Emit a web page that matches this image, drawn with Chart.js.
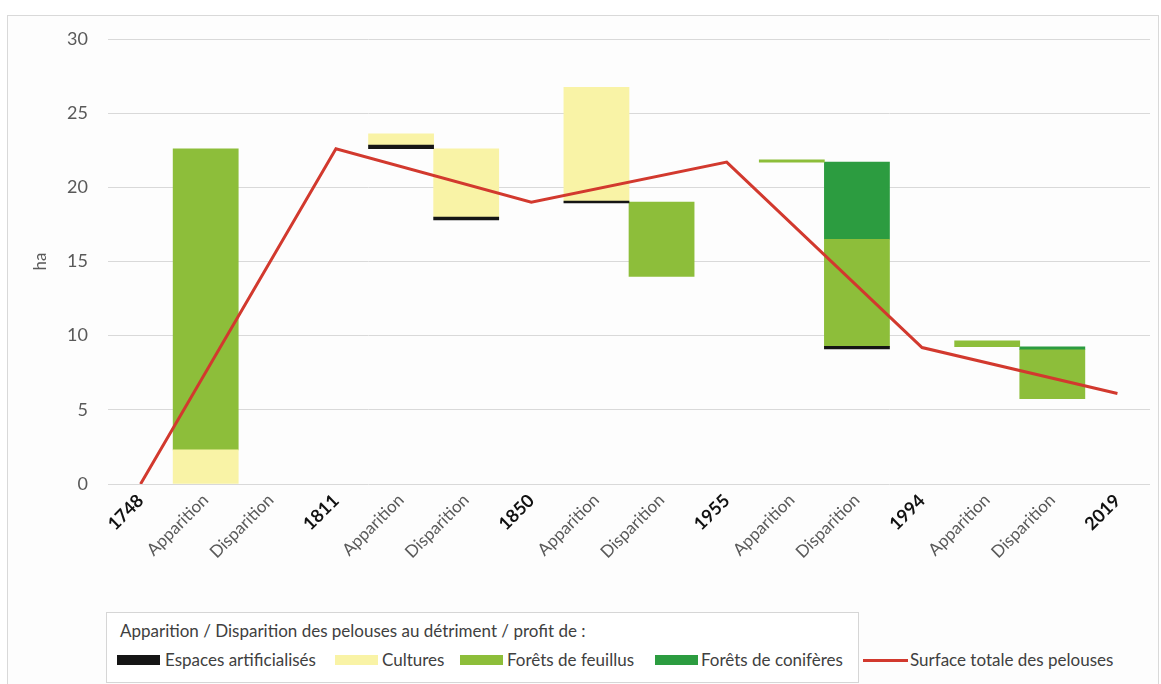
<!DOCTYPE html>
<html>
<head>
<meta charset="utf-8">
<script src="https://cdn.jsdelivr.net/npm/chart.js@4.4.0/dist/chart.umd.min.js"></script>
<style>
  body { margin: 0; background: #fff; font-family: Lato, "Open Sans", sans-serif; }
  #frame { position: absolute; left: 7px; top: 15px; width: 1150px; height: 700px; border: 1px solid #d9d9d9; background: #fdfdfd; }
  #wrap { position: absolute; left: 0; top: 0; width: 1161px; height: 600px; }
  #legendBox { position: absolute; left: 106px; top: 612px; width: 751px; height: 69px; border: 1px solid #d6d6d6; background: #fff; }
  .lg { position: absolute; font-size: 17px; color: #404040; white-space: nowrap; line-height: 20px; }
  .sw { position: absolute; height: 10px; }
</style>
</head>
<body>
<div id="frame"></div>
<div id="wrap"><canvas id="chart"></canvas></div>
<div id="legendBox"></div>
<div id="legend"></div>

<script>
// categories on the x axis
const categories = ['1748', 'Apparition', 'Disparition', '1811', 'Apparition', 'Disparition', '1850',
  'Apparition', 'Disparition', '1955', 'Apparition', 'Disparition', '1994', 'Apparition', 'Disparition', '2019'];

// total lawn area (ha) at each year, null between years
const surfaceTotale = [0, null, null, 22.6, null, null, 19.0, null, null, 21.7, null, null, 9.2, null, null, 6.1];

// floating segments [bottom, top] in ha
const espacesArtificialises = [null, null, null, null, [22.6, 22.85], [17.8, 18.0], null, [18.95, 19.08], null,
  null, null, [9.1, 9.28], null, null, null, null];
const cultures = [null, [0, 2.3], null, null, [22.85, 23.6], [18.0, 22.6], null, [19.08, 26.75], null,
  null, null, null, null, null, null, null];
const foretsFeuillus = [null, [2.3, 22.6], null, null, null, null, null, null, [14.0, 19.0],
  null, [21.7, 21.85], [9.28, 16.5], null, [9.25, 9.65], [5.75, 9.05], null];
const foretsConiferes = [null, null, null, null, null, null, null, null, null,
  null, null, [16.5, 21.7], null, null, [9.05, 9.25], null];

const yTicks = [0, 5, 10, 15, 20, 25, 30];

const colors = {
  espaces: '#151515',
  cultures: '#f9f3a6',
  feuillus: '#8dbe3a',
  coniferes: '#2c9c40',
  surface: '#d2392e'
};

const isYear = (label) => /^\d{4}$/.test(label);

const ctx = document.getElementById('chart').getContext('2d');
const chart = new Chart(ctx, {
  type: 'bar',
  data: {
    labels: categories,
    datasets: [
      {
        type: 'line',
        label: 'Surface totale des pelouses',
        data: surfaceTotale,
        borderColor: colors.surface,
        borderWidth: 3,
        pointRadius: 0,
        spanGaps: true,
        tension: 0,
        order: 0
      },
      { label: 'Espaces artificialisés', data: espacesArtificialises, backgroundColor: colors.espaces, order: 1 },
      { label: 'Cultures', data: cultures, backgroundColor: colors.cultures, order: 2 },
      { label: 'Forêts de feuillus', data: foretsFeuillus, backgroundColor: colors.feuillus, order: 3 },
      { label: 'Forêts de conifères', data: foretsConiferes, backgroundColor: colors.coniferes, order: 4 }
    ]
  },
  options: {
    responsive: true,
    maintainAspectRatio: false,
    animation: false,
    datasets: {
      bar: { barPercentage: 1, categoryPercentage: 1, borderWidth: 0 }
    },
    layout: { padding: { top: 39, right: 11, left: 0, bottom: 0 } },
    plugins: {
      legend: { display: false },
      tooltip: { enabled: false }
    },
    scales: {
      x: {
        stacked: true,
        grid: { display: false },
        border: { display: false },
        afterFit: (scale) => { scale.height = 116; },
        ticks: {
          autoSkip: false,
          maxRotation: 45,
          minRotation: 45,
          padding: -2,
          color: (c) => isYear(categories[c.index]) ? '#111' : '#595959',
          font: (c) => isYear(categories[c.index])
            ? { family: 'Lato', size: 18, weight: 'bold' }
            : { family: 'Lato', size: 17 }
        }
      },
      y: {
        stacked: false,
        min: 0,
        max: 30,
        afterFit: (scale) => { scale.width = 108; },
        afterBuildTicks: (scale) => { scale.ticks = yTicks.map(v => ({ value: v })); },
        grid: { color: '#d9d9d9', lineWidth: 1, drawTicks: false },
        border: { display: false },
        ticks: {
          padding: 20,
          color: '#595959',
          font: { family: 'Lato', size: 18 }
        },
        title: {
          display: true,
          text: 'ha',
          color: '#595959',
          font: { family: 'Lato', size: 17 },
          padding: { top: 30, bottom: 0 }
        }
      }
    }
  }
});

// legend drawn as HTML, placed like the original
const legendItems = [
  { text: 'Espaces artificialisés', color: colors.espaces, sx: 117, tx: 165 },
  { text: 'Cultures', color: colors.cultures, sx: 335, tx: 382 },
  { text: 'Forêts de feuillus', color: colors.feuillus, sx: 460, tx: 507 },
  { text: 'Forêts de conifères', color: colors.coniferes, sx: 655, tx: 701 }
];
const legend = document.getElementById('legend');
let html = '<div class="lg" style="left:120px;top:621px">Apparition / Disparition des pelouses au détriment / profit de :</div>';
legendItems.forEach(it => {
  html += '<div class="sw" style="left:' + it.sx + 'px;top:655px;width:43px;background:' + it.color + '"></div>';
  html += '<div class="lg" style="left:' + it.tx + 'px;top:650px">' + it.text + '</div>';
});
html += '<div class="sw" style="left:863px;top:659px;width:45px;height:3px;background:' + colors.surface + '"></div>';
html += '<div class="lg" style="left:910px;top:650px">Surface totale des pelouses</div>';
legend.innerHTML = html;
</script>
</body>
</html>
